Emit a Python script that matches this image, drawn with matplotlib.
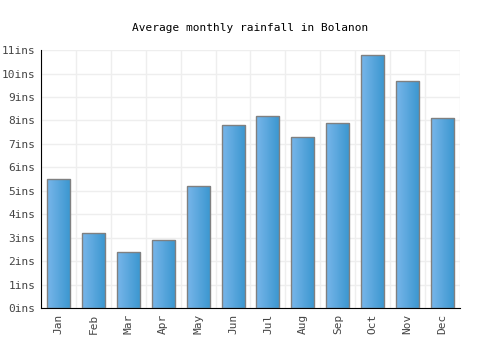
import matplotlib
matplotlib.use('Agg')
import matplotlib.pyplot as plt
import numpy as np
from matplotlib.colors import LinearSegmentedColormap

# data
months = ['Jan', 'Feb', 'Mar', 'Apr', 'May', 'Jun',
          'Jul', 'Aug', 'Sep', 'Oct', 'Nov', 'Dec']
rainfall = [5.5, 3.2, 2.4, 2.9, 5.2, 7.8, 8.2, 7.3, 7.9, 10.8, 9.7, 8.1]
yticks = list(range(0, 12))
ytick_labels = [f'{v}ins' for v in yticks]

plt.rcParams['font.family'] = ['DejaVu Sans Mono']

fig = plt.figure(figsize=[5, 3.5], dpi=100)
ax = fig.add_axes([0.082, 0.12, 0.838, 0.737])

x = np.arange(len(months))
bars = ax.bar(x, rainfall, width=0.66, facecolor='none',
              edgecolor='#808080', linewidth=1, zorder=3)

# horizontal gradient fill in each bar
cmap = LinearSegmentedColormap.from_list('blu', ['#78b6ea', '#3a96cf'])
grad = np.linspace(0, 1, 64).reshape(1, -1)
for b in bars:
    x0, w, h = b.get_x(), b.get_width(), b.get_height()
    im = ax.imshow(grad, cmap=cmap, aspect='auto',
                   extent=[x0, x0 + w, 0, h], zorder=2)
    im.set_clip_path(b)

ax.set_xlim(-0.5, len(months) - 0.5)
ax.set_ylim(0, 11)
ax.set_yticks(yticks)
ax.set_yticklabels(ytick_labels)
ax.set_xticks(x)
ax.set_xticklabels(months, rotation=90)
ax.set_xticks(np.arange(-0.5, len(months), 1), minor=True)
ax.tick_params(axis='both', which='both', length=0, labelsize=8,
               labelcolor='#444444', pad=4)

ax.grid(True, which='major', axis='y', color='#eeeeee', linewidth=1, zorder=0)
ax.grid(True, which='minor', axis='x', color='#eeeeee', linewidth=1, zorder=0)
ax.set_axisbelow(True)

for s in ['top', 'right']:
    ax.spines[s].set_visible(False)
ax.spines['left'].set_color('black')
ax.spines['bottom'].set_color('black')

ax.set_title('Average monthly rainfall in Bolanon', fontsize=8, pad=14)

fig.savefig('out.png', dpi=100)
